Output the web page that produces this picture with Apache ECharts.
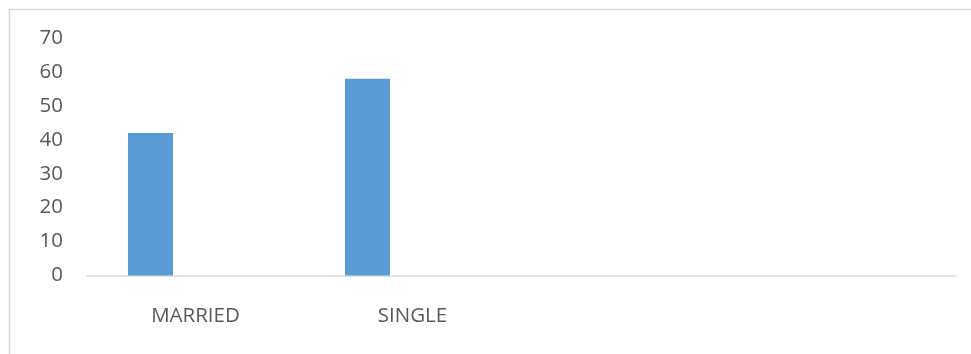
<!DOCTYPE html>
<html>
<head>
<meta charset="utf-8">
<script src="https://cdn.jsdelivr.net/npm/echarts@6/dist/echarts.min.js"></script>
<style>
html,body{margin:0;padding:0;background:#fff;}
#chart{width:971px;height:354px;}
</style>
</head>
<body>
<div id="chart"></div>
<script>
const categories = ['MARRIED', 'SINGLE', '', ''];
const series1 = [42, 58, null, null];
const series2 = [null, null, null, null];
const series3 = [null, null, null, null];
const yTicks = { min: 0, max: 70, interval: 10 };

const chart = echarts.init(document.getElementById('chart'), null, { renderer: 'canvas' });
const font = '"Open Sans", sans-serif';
chart.setOption({
  animation: false,
  backgroundColor: '#ffffff',
  graphic: [{
    type: 'rect',
    shape: { x: 9.5, y: 9.5, width: 1000, height: 400 },
    style: { fill: 'none', stroke: '#D9D9D9', lineWidth: 1.5 },
    silent: true
  }],
  grid: { left: 87, right: 16, top: 38, bottom: 78.5, containLabel: false },
  xAxis: {
    type: 'category',
    data: categories,
    axisLine: { show: true, lineStyle: { color: '#D9D9D9', width: 1.5 } },
    axisTick: { show: false },
    splitLine: { show: false },
    axisLabel: { color: '#595959', fontFamily: font, fontSize: 20.5, margin: 30, interval: 0 }
  },
  yAxis: {
    type: 'value',
    min: yTicks.min, max: yTicks.max, interval: yTicks.interval,
    axisLine: { show: false },
    axisTick: { show: false },
    splitLine: { show: false },
    axisLabel: { color: '#595959', fontFamily: font, fontSize: 20.5, margin: 24 }
  },
  series: [
    { type: 'bar', data: series1, barWidth: 45, barGap: '0%', itemStyle: { color: '#5B9BD5' } },
    { type: 'bar', data: series2, barWidth: 45, barGap: '0%', itemStyle: { color: '#ED7D31' } },
    { type: 'bar', data: series3, barWidth: 45, barGap: '0%', itemStyle: { color: '#A5A5A5' } }
  ]
});
</script>
</body>
</html>
